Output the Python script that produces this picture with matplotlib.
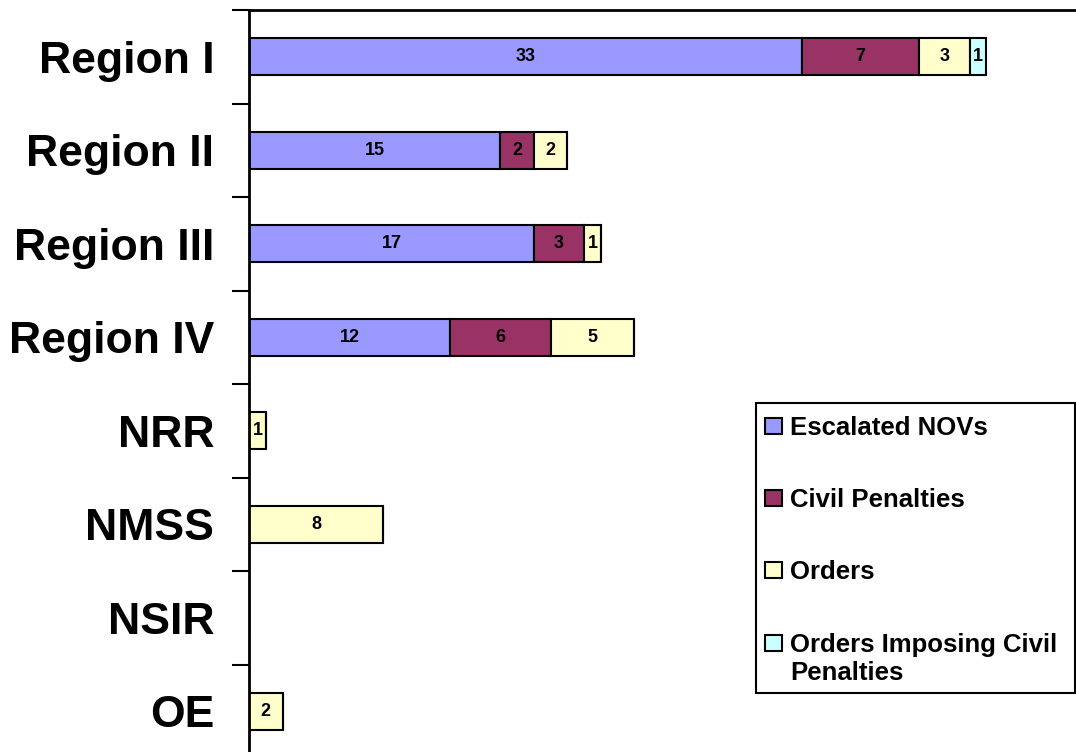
import matplotlib
matplotlib.use("Agg")
import matplotlib.pyplot as plt
from matplotlib.patches import Rectangle
import numpy as np

categories = ["Region I", "Region II", "Region III", "Region IV", "NRR", "NMSS", "NSIR", "OE"]
series_names = ["Escalated NOVs", "Civil Penalties", "Orders", "Orders Imposing Civil\nPenalties"]
escalated_novs = [33, 15, 17, 12, 0, 0, 0, 0]
civil_penalties = [7, 2, 3, 6, 0, 0, 0, 0]
orders = [3, 2, 1, 5, 1, 8, 0, 2]
orders_imposing = [1, 0, 0, 0, 0, 0, 0, 0]
colors = ["#9999FF", "#993366", "#FFFFCC", "#CCFFFF"]

plt.rcParams['font.family'] = ['Liberation Sans', 'DejaVu Sans']

W, H = 1076, 752
fig = plt.figure(figsize=(W / 100, H / 100), dpi=100)

# axes extends slightly beyond the image on right and bottom, like the reference
px_per_unit = 16.76
xmax = 50
left_px, top_px = 249, 10
cat_px = 93.5
n = len(categories)
ax_w = xmax * px_per_unit
ax_h = n * cat_px
ax = fig.add_axes([left_px / W, 1 - (top_px + ax_h) / H, ax_w / W, ax_h / H])

y = np.arange(n)
series = [escalated_novs, civil_penalties, orders, orders_imposing]
left = np.zeros(n)
for vals, c in zip(series, colors):
    vals = np.array(vals, dtype=float)
    bars = ax.barh(y, vals, left=left, height=0.4, color=c, edgecolor="black", linewidth=1.5)
    for b, v in zip(bars, vals):
        if v > 0:
            ax.text(b.get_x() + b.get_width() / 2, b.get_y() + b.get_height() / 2,
                    f"{int(v)}", ha="center", va="center", fontsize=13, fontweight="bold")
    left += vals

ax.set_xlim(0, xmax)
ax.set_ylim(n - 0.5, -0.5)
ax.set_xticks([])
ax.set_yticks(y)
ax.set_yticklabels(categories, fontsize=32, fontweight="bold")
ax.set_yticks(np.arange(-0.5, n, 1.0), minor=True)
ax.tick_params(axis="y", which="major", length=0, pad=25)
ax.tick_params(axis="y", which="minor", length=12, width=1.5, direction="out")
for s in ax.spines.values():
    s.set_linewidth(2)

# legend box
lx0, ly0, lx1, ly1 = 756, 403, 1075, 693
fig.patches.append(Rectangle((lx0 / W, 1 - ly1 / H), (lx1 - lx0) / W, (ly1 - ly0) / H,
                             transform=fig.transFigure, facecolor="white", edgecolor="black",
                             linewidth=1.5, zorder=5))
entry_y = [426, 498, 570, 643]
for name, c, ey in zip(series_names, colors, entry_y):
    fig.patches.append(Rectangle((765 / W, 1 - (ey + 8) / H), 17 / W, 16 / H,
                                 transform=fig.transFigure, facecolor=c, edgecolor="black",
                                 linewidth=1.5, zorder=6))
    fig.text(790 / W, 1 - (ey - 10) / H, name, ha="left", va="top", fontsize=18.5,
             fontweight="bold", linespacing=1.2, zorder=7)

fig.savefig("out.png", dpi=100)
